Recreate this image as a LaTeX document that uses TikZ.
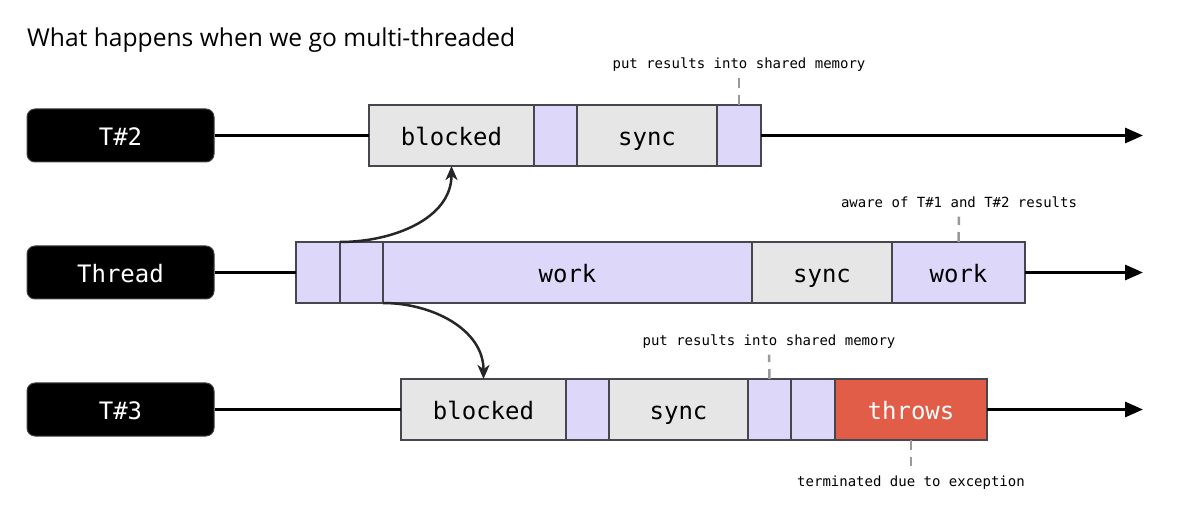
\documentclass[tikz,border=0pt]{standalone}
\usepackage{fontspec}
\setmainfont{Open Sans}
\setmonofont{DejaVu Sans Mono}
\usetikzlibrary{positioning,arrows.meta}
\definecolor{lilla}{RGB}{221,216,250}
\definecolor{grigio}{RGB}{230,230,230}
\definecolor{rosso}{RGB}{225,93,72}
\definecolor{bordo}{RGB}{70,70,78}
\begin{document}
\begin{tikzpicture}[x=1pt,y=-1pt,
    seg/.style={draw=bordo, line width=1.5pt, minimum width=#1, minimum height=61pt,
      inner sep=0pt, outer sep=0pt, text height=20pt, text depth=0pt,
      font=\ttfamily\fontsize{24}{28}\selectfont},
    lbl/.style={fill=black, draw=black!75, line width=1pt, rounded corners=8pt,
      minimum width=187pt, minimum height=53pt, text=white,
      inner sep=0pt, text height=20pt, text depth=0pt,
      font=\ttfamily\fontsize{24}{28}\selectfont},
    nota/.style={inner sep=0pt, text height=12pt, text depth=1pt,
      font=\ttfamily\fontsize{14}{16}\selectfont},
    tacca/.style={draw=black!40, line width=2.5pt, dash pattern=on 10pt off 7pt, shorten >=8pt},
    linea/.style={line width=3pt},
    freccia/.style={line width=3pt, -{Triangle[length=18pt,width=15pt]}},
    curva/.style={line width=2.5pt, draw=black!85, -{Stealth[length=14pt,width=12pt,inset=4pt]}}]
  \useasboundingbox (0,0) rectangle (1178,510);
  %titolo
  \node[anchor=base west, inner sep=0pt, font=\fontsize{24.6}{30}\selectfont] (titolo) at (27,47) {What happens when we go multi-threaded};
  %etichette
  \node[lbl] (l2) at (120.5,135.5) {T\#2};
  \node[lbl] (l1) at (120.5,272.5) {Thread};
  \node[lbl] (l3) at (120.5,409.5) {T\#3};
  %T#2
  \node[seg=165pt, fill=grigio, anchor=west] (b2a) at (369,135.5) {blocked};
  \node[seg=43pt, fill=lilla, right=0pt of b2a] (b2b) {};
  \node[seg=140pt, fill=grigio, right=0pt of b2b] (b2c) {sync};
  \node[seg=44pt, fill=lilla, right=0pt of b2c] (b2d) {};
  \coordinate (f2) at (1143,135.5);
  \draw[linea] (l2) -- (b2a);
  \draw[freccia] (b2d) -- (f2);
  %thread principale
  \node[seg=44pt, fill=lilla, anchor=west] (t1) at (296,272.5) {};
  \node[seg=43pt, fill=lilla, right=0pt of t1] (t2) {};
  \node[seg=369pt, fill=lilla, right=0pt of t2] (t3) {work};
  \node[seg=140pt, fill=grigio, right=0pt of t3] (t4) {sync};
  \node[seg=133pt, fill=lilla, right=0pt of t4] (t5) {work};
  \coordinate (f1) at (1143,272.5);
  \draw[linea] (l1) -- (t1);
  \draw[freccia] (t5) -- (f1);
  %T#3
  \node[seg=165pt, fill=grigio, anchor=west] (b3a) at (401,409.5) {blocked};
  \node[seg=43pt, fill=lilla, right=0pt of b3a] (b3b) {};
  \node[seg=139pt, fill=grigio, right=0pt of b3b] (b3c) {sync};
  \node[seg=43pt, fill=lilla, right=0pt of b3c] (b3d) {};
  \node[seg=44pt, fill=lilla, right=0pt of b3d] (b3e) {};
  \node[seg=152pt, fill=rosso, text=white, right=0pt of b3e] (b3f) {throws};
  \coordinate (f3) at (1143,409.5);
  \draw[linea] (l3) -- (b3a);
  \draw[freccia] (b3f) -- (f3);
  %avvio dei thread
  \draw[curva] (t1.north east) to[out=0, in=-90] (b2a.south);
  \draw[curva] (t2.south east) to[out=0, in=90] (b3a.north);
  %note
  \node[nota] (n1) at (739,63) {put results into shared memory};
  \draw[tacca] (b2d.north) -- (n1.south);
  \node[nota] (n2) at (959,202) {aware of T\#1 and T\#2 results};
  \draw[tacca] (t5.north) -- (n2.south);
  \node[nota] (n3) at (769,340) {put results into shared memory};
  \draw[tacca] (b3d.north) -- (n3.south);
  \node[nota] (n4) at (911,481) {terminated due to exception};
  \draw[tacca] (b3f.south) -- (n4.north);
\end{tikzpicture}
\end{document}
